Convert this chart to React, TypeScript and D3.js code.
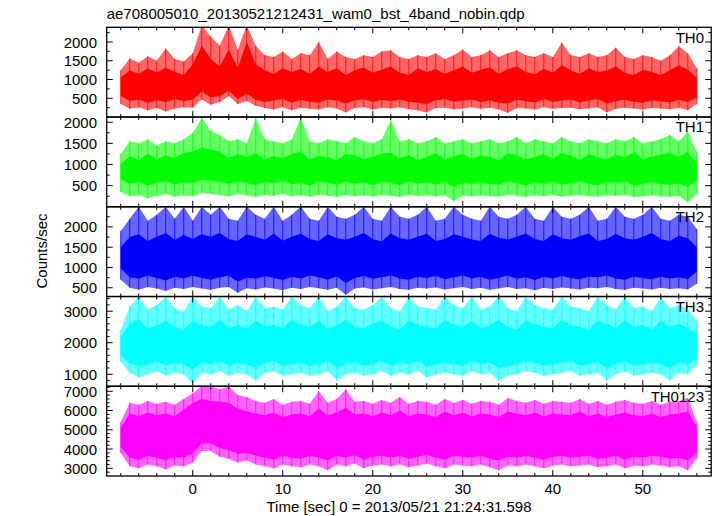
import React from "react";
import * as d3 from "d3";

const TITLE = "ae708005010_20130521212431_wam0_bst_4band_nobin.qdp";
const X_LABEL = "Time [sec] 0 = 2013/05/21 21:24:31.598";
const Y_LABEL = "Counts/sec";
const T_START = -8; // first 1-s bin; arrays below run -8 .. 56
const X_DOMAIN = [-9.56, 57.6];
const X_MAJOR = [0, 10, 20, 30, 40, 50];

// ---- TH0 (red) : per-second max, min, dense-core top, dense-core bottom
const TH0_hi = [1250,1560,1450,1620,1500,1830,1550,1480,1700,2450,
  2150,1900,2450,1800,2450,1900,1650,1600,1750,1550,
  1700,1650,2000,1550,1750,1600,1550,1650,1600,1750,
  1780,1600,1550,1650,1600,1700,1550,1650,1800,1600,
  1650,1780,1600,1700,1780,1650,1600,1700,1600,1980,
  1650,1600,1700,1600,1650,1850,1600,1550,1650,1600,
  1500,1650,1890,1700,1300];
const TH0_lo = [350,220,260,180,240,150,230,260,250,470,
  330,400,560,350,430,300,240,200,260,180,
  250,220,200,260,230,120,240,260,200,250,
  230,260,210,180,120,240,250,200,230,260,
  220,250,200,110,240,230,200,260,220,240,
  250,210,230,260,120,220,250,230,200,240,
  230,210,250,180,350];
const TH0_cHi = [1050,1250,1150,1300,1180,1320,1200,1120,1400,1900,
  1550,1350,1800,1300,2000,1400,1250,1150,1300,1200,
  1280,1150,1350,1200,1300,1120,1250,1320,1180,1260,
  1350,1180,1120,1300,1200,1280,1150,1250,1350,1180,
  1260,1330,1150,1280,1350,1200,1140,1290,1180,1380,
  1250,1150,1300,1200,1240,1350,1180,1120,1260,1200,
  1120,1250,1380,1260,1050];
const TH0_cLo = [560,430,470,380,450,400,480,430,470,680,
  520,560,700,480,620,460,400,450,480,380,
  460,410,380,470,440,360,450,480,400,460,
  420,470,410,380,350,450,480,410,440,470,
  400,450,380,360,470,420,390,480,410,440,
  470,390,450,480,360,420,460,410,380,450,
  420,390,460,400,520];

// ---- TH1 (green)
const TH1_hi = [1250,1550,1500,1600,1450,1550,1500,1600,1750,2100,
  1800,1700,1550,1600,1500,2100,1600,1550,1500,1600,
  2120,1550,1500,1600,1550,1500,1650,1550,1500,1600,
  2050,1550,1600,1500,1550,1650,1500,1550,1600,1500,
  1550,1600,1500,1550,1650,1500,1600,1550,1500,1650,
  1550,1500,1600,1550,1500,1600,1550,1650,1500,1550,
  1600,1700,1550,1780,1300];
const TH1_lo = [350,250,280,200,260,300,240,270,250,330,
  300,280,250,300,270,240,280,260,300,250,
  270,240,280,260,230,280,250,270,240,280,
  260,230,280,250,270,240,280,130,260,250,
  270,250,240,280,260,230,270,250,280,240,
  260,280,250,240,270,260,280,230,250,270,
  250,240,260,100,300];
const TH1_cHi = [1000,1200,1100,1250,1120,1220,1150,1280,1300,1400,
  1350,1300,1150,1250,1180,1280,1120,1200,1150,1250,
  1300,1120,1200,1180,1100,1250,1220,1130,1180,1260,
  1280,1150,1220,1100,1180,1270,1120,1200,1250,1140,
  1210,1180,1100,1260,1220,1120,1180,1250,1130,1280,
  1200,1110,1240,1180,1120,1230,1170,1290,1120,1190,
  1230,1280,1180,1300,1000];
const TH1_cLo = [660,540,590,500,570,610,530,580,560,640,
  620,590,540,600,560,510,590,550,620,530,
  570,500,590,560,520,600,540,580,510,590,
  560,510,600,540,580,520,590,470,560,540,
  580,540,520,600,560,500,580,540,600,520,
  560,600,540,510,580,560,600,500,540,580,
  540,520,560,460,640];

// ---- TH2 (blue)
const TH2_hi = [1900,2200,2495,2150,2300,2495,2200,2495,2150,2495,
  2300,2495,2200,2150,2495,2300,2200,2495,2150,2300,
  2495,2200,2150,2495,2250,2200,2300,2495,2200,2150,
  2495,2250,2200,2300,2495,2150,2200,2495,2300,2200,
  2150,2495,2250,2200,2300,2495,2200,2150,2495,2250,
  2200,2300,2495,2150,2200,2495,2250,2200,2300,2495,
  2200,2150,2300,2250,1950];
const TH2_lo = [700,500,450,520,480,420,500,470,520,480,
  450,500,520,380,490,460,510,480,440,500,
  470,520,490,450,500,330,480,510,460,490,
  520,470,450,500,480,510,460,490,520,470,
  500,450,480,520,470,490,440,500,470,510,
  480,460,500,490,520,470,450,500,480,460,
  500,470,490,460,600];
const TH2_cHi = [1500,1750,1820,1650,1760,1850,1680,1800,1700,1820,
  1760,1850,1700,1650,1820,1750,1680,1840,1660,1760,
  1830,1700,1650,1820,1720,1680,1760,1850,1700,1640,
  1840,1720,1680,1760,1830,1650,1700,1820,1760,1690,
  1650,1830,1730,1690,1760,1840,1700,1650,1820,1720,
  1680,1770,1840,1650,1700,1830,1720,1680,1760,1850,
  1700,1650,1780,1720,1500];
const TH2_cLo = [980,760,720,800,740,680,770,730,800,740,
  700,760,800,650,750,720,790,740,690,770,
  730,800,760,700,780,620,740,790,720,760,
  800,730,700,770,740,790,710,760,800,730,
  770,700,740,800,720,760,690,770,730,790,
  740,710,770,760,800,730,700,770,740,710,
  770,730,760,710,900];

// ---- TH3 (cyan)
const TH3_hi = [2400,3150,3465,3050,3200,3465,3100,3000,3465,3150,
  3100,3465,3050,3200,3000,3465,3100,3150,3050,3465,
  3200,3100,3465,3000,3150,3465,3100,3050,3200,3465,
  3100,3000,3465,3150,3100,3050,3465,3200,3100,3465,
  3050,3150,3465,3100,3000,3465,3200,3100,3050,3465,
  3150,3100,3000,3465,3200,3050,3465,3100,3150,3000,
  3465,3100,3200,3050,2700];
const TH3_lo = [1400,1050,900,1000,1100,950,1050,1000,700,1050,
  1000,1100,950,1050,1000,800,1050,1100,950,1000,
  1050,950,1000,1100,800,1000,1050,950,1000,1100,
  950,1050,1000,1100,900,1000,1050,1000,950,1100,
  1000,1050,800,950,1000,1100,1050,950,1000,1050,
  1100,950,1000,1050,800,1000,1100,950,1000,1050,
  1000,800,1050,1000,1300];
const TH3_cHi = [2200,2600,2750,2450,2550,2700,2480,2420,2700,2550,
  2500,2720,2450,2580,2420,2700,2520,2560,2460,2720,
  2580,2500,2700,2420,2560,2720,2500,2460,2600,2700,
  2520,2420,2700,2560,2500,2460,2720,2580,2500,2700,
  2460,2560,2720,2500,2420,2700,2600,2500,2460,2720,
  2560,2500,2420,2700,2600,2460,2720,2500,2560,2420,
  2700,2500,2600,2460,2300];
const TH3_cLo = [1600,1350,1250,1320,1400,1280,1360,1320,1150,1380,
  1320,1420,1270,1360,1320,1200,1370,1420,1280,1320,
  1380,1270,1320,1420,1200,1330,1370,1270,1320,1420,
  1270,1370,1320,1420,1250,1320,1370,1320,1270,1420,
  1320,1370,1200,1270,1320,1420,1370,1270,1320,1370,
  1420,1270,1320,1370,1200,1320,1420,1270,1320,1370,
  1320,1200,1370,1320,1500];

// ---- TH0123 (magenta)
const TH0123_hi = [5400,6400,6300,6500,6350,6450,6300,6600,6900,7260,
  7260,7100,7260,6800,6700,6500,6400,6600,6300,6450,
  6500,6350,7000,6400,6600,7100,6450,6500,6350,6550,
  6400,6700,6350,6500,6450,6300,6600,6400,6550,6350,
  6500,6450,6300,6650,6500,6400,6550,6350,6500,6450,
  6400,6600,6350,6500,6300,6450,6550,6400,6350,6500,
  6300,6450,6500,6650,5400];
const TH0123_lo = [3800,3100,3000,3200,3100,2950,3150,3100,3300,3900,
  3900,3600,3500,3300,3400,3200,3100,3000,3200,3100,
  3050,3200,3100,2900,3200,3100,3250,3000,3150,3200,
  3100,3200,3050,3150,3250,3100,3000,3200,3150,3100,
  3200,3050,2900,3150,3100,3200,3100,3000,3150,3200,
  3100,3150,3200,3050,3100,3200,3000,3150,3100,3200,
  3150,3050,3100,2900,3500];
const TH0123_cHi = [5100,5850,5700,5900,5750,5850,5700,6050,6400,6600,
  6500,6450,6400,6100,5950,5850,5750,5900,5650,5800,
  5850,5700,6100,5750,5900,6150,5800,5850,5700,5900,
  5750,6000,5700,5850,5800,5650,5950,5750,5900,5700,
  5850,5800,5650,5950,5850,5750,5900,5700,5850,5800,
  5750,5950,5700,5850,5650,5800,5900,5750,5700,5850,
  5650,5800,5850,5950,5100];
const TH0123_cLo = [4100,3550,3450,3650,3550,3400,3600,3550,3800,4300,
  4300,4050,3950,3750,3800,3650,3550,3450,3650,3550,
  3500,3650,3550,3400,3650,3550,3700,3450,3600,3650,
  3550,3650,3500,3600,3700,3550,3450,3650,3600,3550,
  3650,3500,3400,3600,3550,3650,3550,3450,3600,3650,
  3550,3600,3650,3500,3550,3650,3450,3600,3550,3650,
  3600,3500,3550,3400,3850];

const panels = [
  { name: "TH0", color: "#ff0000", domain: [0, 2392], major: 500, minor: 250, hi: TH0_hi, lo: TH0_lo, cHi: TH0_cHi, cLo: TH0_cLo },
  { name: "TH1", color: "#00ff00", domain: [0, 2123], major: 500, minor: 250, hi: TH1_hi, lo: TH1_lo, cHi: TH1_cHi, cLo: TH1_cLo },
  { name: "TH2", color: "#0000ff", domain: [285, 2495], major: 500, minor: 250, hi: TH2_hi, lo: TH2_lo, cHi: TH2_cHi, cLo: TH2_cLo },
  { name: "TH3", color: "#00ffff", domain: [620, 3465], major: 1000, minor: 200, hi: TH3_hi, lo: TH3_lo, cHi: TH3_cHi, cLo: TH3_cLo },
  { name: "TH0123", color: "#ff00ff", domain: [2600, 7260], major: 1000, minor: 200, hi: TH0123_hi, lo: TH0123_lo, cHi: TH0123_cHi, cLo: TH0123_cLo },
];

const W = 717, H = 516;
const LEFT = 106.7, RIGHT = 711.2, TOP = 27.3, BOTTOM = 476;
const PH = (BOTTOM - TOP) / panels.length;
const FONT = "'Liberation Sans', Arial, Helvetica, sans-serif";
const FS = 15;
const MAJ = 6, MIN = 3;

export default function App() {
  const x = d3.scaleLinear().domain(X_DOMAIN).range([LEFT, RIGHT]);
  const xMinor = d3.range(-8, 57, 2);

  return (
    <svg width={W} height={H} style={{ position: "absolute", left: 0, top: 0, background: "#fff" }}
      fontFamily={FONT} fontSize={FS}>
      <rect x={0} y={0} width={W} height={H} fill="#fff" />
      <text x={LEFT} y={18.5} fill="#000">{TITLE}</text>
      {panels.map((p, pi) => {
        const y0 = TOP + pi * PH, y1 = y0 + PH;
        const y = d3.scaleLinear().domain(p.domain).range([y1, y0]);
        const rows = p.hi.map((_, i) => ({ t: T_START + i, hi: p.hi[i], lo: p.lo[i], cHi: p.cHi[i], cLo: p.cLo[i] }));
        const outer = d3.area<any>().x(d => x(d.t)).y0(d => y(d.lo)).y1(d => y(d.hi))(rows) || "";
        const core = d3.area<any>().x(d => x(d.t)).y0(d => y(d.cLo)).y1(d => y(d.cHi))(rows) || "";
        const yMaj = d3.range(Math.ceil(p.domain[0] / p.major) * p.major, p.domain[1] + 1e-6, p.major)
          .filter(v => v > p.domain[0] + 1);
        const yMin = d3.range(Math.ceil(p.domain[0] / p.minor) * p.minor, p.domain[1] + 1e-6, p.minor)
          .filter(v => v % p.major !== 0 && v > p.domain[0]);
        const clipId = `clip${pi}`;
        return (
          <g key={p.name}>
            <defs>
              <clipPath id={clipId}>
                <rect x={LEFT} y={y0} width={RIGHT - LEFT} height={PH} />
              </clipPath>
            </defs>
            <g clipPath={`url(#${clipId})`}>
              <path d={outer} fill={p.color} fillOpacity={0.6} />
              {rows.map(r => (
                <line key={`s${r.t}`} x1={x(r.t)} x2={x(r.t)} y1={y(r.lo)} y2={y(r.hi)}
                  stroke={p.color} strokeWidth={1} strokeOpacity={0.8} />
              ))}
              <path d={core} fill={p.color} />
            </g>
            {xMinor.map(t => {
              const len = t % 10 === 0 ? MAJ : MIN;
              return (
                <g key={`xt${t}`} stroke="#000" strokeWidth={1}>
                  <line x1={x(t)} x2={x(t)} y1={y1} y2={y1 - len} />
                  <line x1={x(t)} x2={x(t)} y1={y0} y2={y0 + len} />
                </g>
              );
            })}
            {yMaj.map(v => (
              <g key={`ym${v}`} stroke="#000" strokeWidth={1}>
                <line x1={LEFT} x2={LEFT + MAJ} y1={y(v)} y2={y(v)} />
                <line x1={RIGHT} x2={RIGHT - MAJ} y1={y(v)} y2={y(v)} />
              </g>
            ))}
            {yMin.map(v => (
              <g key={`yn${v}`} stroke="#000" strokeWidth={1}>
                <line x1={LEFT} x2={LEFT + MIN} y1={y(v)} y2={y(v)} />
                <line x1={RIGHT} x2={RIGHT - MIN} y1={y(v)} y2={y(v)} />
              </g>
            ))}
            {yMaj.filter(v => y(v) > y0 + 5).map(v => (
              <text key={`yl${v}`} x={97} y={y(v)} textAnchor="end" dominantBaseline="central" fill="#000">{v}</text>
            ))}
            <rect x={LEFT} y={y0} width={RIGHT - LEFT} height={PH} fill="none" stroke="#000" strokeWidth={1.3} />
            <text x={704} y={y0 + 15.4} textAnchor="end" fill="#000">{p.name}</text>
          </g>
        );
      })}
      {X_MAJOR.map(t => (
        <text key={`xl${t}`} x={x(t)} y={494} textAnchor="middle" fill="#000">{t}</text>
      ))}
      <text x={399} y={512} textAnchor="middle" fill="#000">{X_LABEL}</text>
      <text transform={`translate(47,251) rotate(-90)`} textAnchor="middle" fill="#000">{Y_LABEL}</text>
    </svg>
  );
}
